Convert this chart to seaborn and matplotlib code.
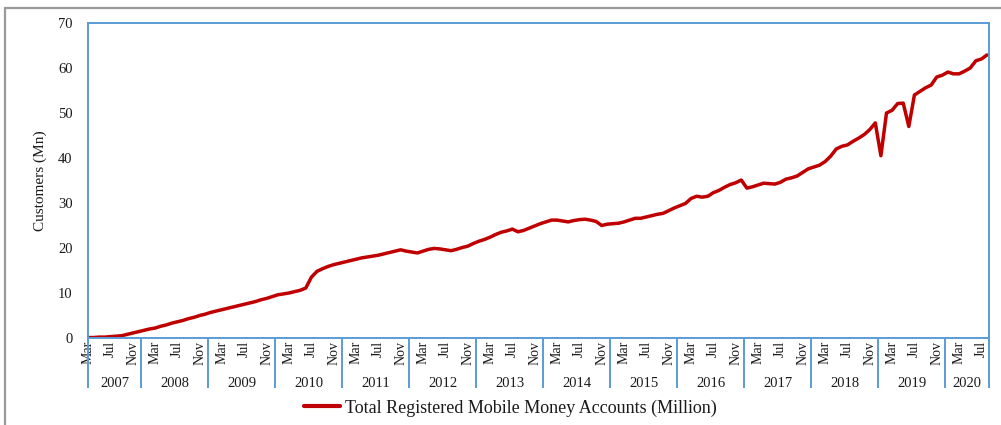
import numpy as np
import pandas as pd
import matplotlib
matplotlib.use("Agg")
import matplotlib.pyplot as plt
import matplotlib.transforms as mtransforms
from matplotlib.lines import Line2D
import seaborn as sns

# monthly registered mobile money accounts (million), Mar 2007 - Aug 2020
Y2007 = [0.1, 0.1, 0.2, 0.2, 0.3, 0.4, 0.5, 0.8, 1.1, 1.4]
Y2008 = [1.7, 2.0, 2.2, 2.6, 2.9, 3.3, 3.6, 3.9, 4.3, 4.6, 5.0, 5.3]
Y2009 = [5.7, 6.0, 6.3, 6.6, 6.9, 7.2, 7.5, 7.8, 8.1, 8.5, 8.8, 9.2]
Y2010 = [9.6, 9.8, 10.0, 10.3, 10.6, 11.1, 13.5, 14.8, 15.4, 15.9, 16.3, 16.6]
Y2011 = [16.9, 17.2, 17.5, 17.8, 18.0, 18.2, 18.4, 18.7, 19.0, 19.3, 19.6, 19.3]
Y2012 = [19.1, 18.9, 19.3, 19.7, 19.9, 19.8, 19.6, 19.4, 19.7, 20.1, 20.4, 21.0]
Y2013 = [21.5, 21.9, 22.4, 23.0, 23.5, 23.8, 24.2, 23.6, 23.9, 24.4, 24.9, 25.4]
Y2014 = [25.8, 26.2, 26.2, 26.0, 25.8, 26.1, 26.3, 26.4, 26.2, 25.9, 25.0, 25.3]
Y2015 = [25.4, 25.5, 25.8, 26.2, 26.6, 26.6, 26.9, 27.2, 27.5, 27.7, 28.3, 28.9]
Y2016 = [29.4, 29.9, 31.0, 31.5, 31.3, 31.5, 32.3, 32.8, 33.5, 34.1, 34.5, 35.1]
Y2017 = [33.3, 33.6, 34.0, 34.4, 34.3, 34.2, 34.6, 35.3, 35.6, 36.0, 36.8, 37.6]
Y2018 = [38.0, 38.4, 39.2, 40.4, 42.0, 42.6, 42.9, 43.7, 44.4, 45.2, 46.3, 47.8]
Y2019 = [40.5, 50.0, 50.6, 52.1, 52.2, 47.0, 54.0, 54.8, 55.6, 56.2, 58.0, 58.4]
Y2020 = [59.1, 58.7, 58.7, 59.3, 60.0, 61.6, 62.0, 62.9]

YEARS = list(range(2007, 2021))

values = (Y2007 + Y2008 + Y2009 + Y2010 + Y2011 + Y2012 + Y2013 + Y2014
          + Y2015 + Y2016 + Y2017 + Y2018 + Y2019 + Y2020)
dates = pd.date_range("2007-03-01", periods=len(values), freq="MS")
df = pd.DataFrame({"idx": np.arange(len(values)), "date": dates, "value": values})

BLUE = "#5B9BD5"
RED = "#C00000"
TXT = "#1a1a1a"

sns.set_style("white")
plt.rcParams["font.family"] = ["Liberation Serif", "DejaVu Serif"]

fig = plt.figure(figsize=(10.01, 4.25), dpi=100)
ax = fig.add_axes([88 / 1001, 87 / 425, 901 / 1001, 315 / 425])

sns.lineplot(data=df, x="idx", y="value", color=RED, linewidth=2.5, ax=ax,
             legend=False)

ax.set_xlim(0, len(values) - 1 + 0.36)
ax.set_ylim(0, 70)
ax.set_yticks(range(0, 71, 10))
ax.tick_params(axis="y", length=0, pad=11, labelsize=10.5, labelcolor=TXT)
ax.set_ylabel("Customers (Mn)", fontsize=11, labelpad=8, color=TXT)
ax.set_xlabel("")

for s in ax.spines.values():
    s.set_color(BLUE)
    s.set_linewidth(1.4)

# month labels every four months
ticks = df["idx"][::4]
tick_labels = [d.strftime("%b") for d in df["date"][::4]]
ax.set_xticks(ticks)
ax.set_xticklabels(tick_labels, rotation=90, fontsize=10, color=TXT)
ax.tick_params(axis="x", length=0, pad=2)

# year boxes below the axis
trans = mtransforms.blended_transform_factory(ax.transData, ax.transAxes)
year_of = df["date"].dt.year
bounds = [0]
for y in YEARS[1:]:
    bounds.append(df["idx"][year_of == y].iloc[0] - 0.5)
bounds.append(ax.get_xlim()[1])
for b in bounds:
    ax.plot([b, b], [0, -0.159], transform=trans, color=BLUE, lw=1.4,
            clip_on=False, solid_capstyle="butt")
for i, y in enumerate(YEARS):
    ax.text((bounds[i] + bounds[i + 1]) / 2, -0.143, str(y), transform=trans,
            ha="center", va="center", fontsize=10.5, color=TXT)

# legend
handle = Line2D([], [], color=RED, lw=3)
fig.legend([handle], ["Total Registered Mobile Money Accounts (Million)"],
           loc="center", bbox_to_anchor=(0.51, 0.04), frameon=False,
           fontsize=13, handlelength=2.0, handletextpad=0.25,
           labelcolor=TXT)

# outer gray frame
fig.add_artist(Line2D([5 / 1001, 5 / 1001], [0, 1 - 8 / 425], color="#999999",
                      lw=1.6, transform=fig.transFigure))
fig.add_artist(Line2D([5 / 1001, 1], [1 - 8 / 425, 1 - 8 / 425], color="#999999",
                      lw=1.6, transform=fig.transFigure))

fig.savefig("out.png", dpi=100)
